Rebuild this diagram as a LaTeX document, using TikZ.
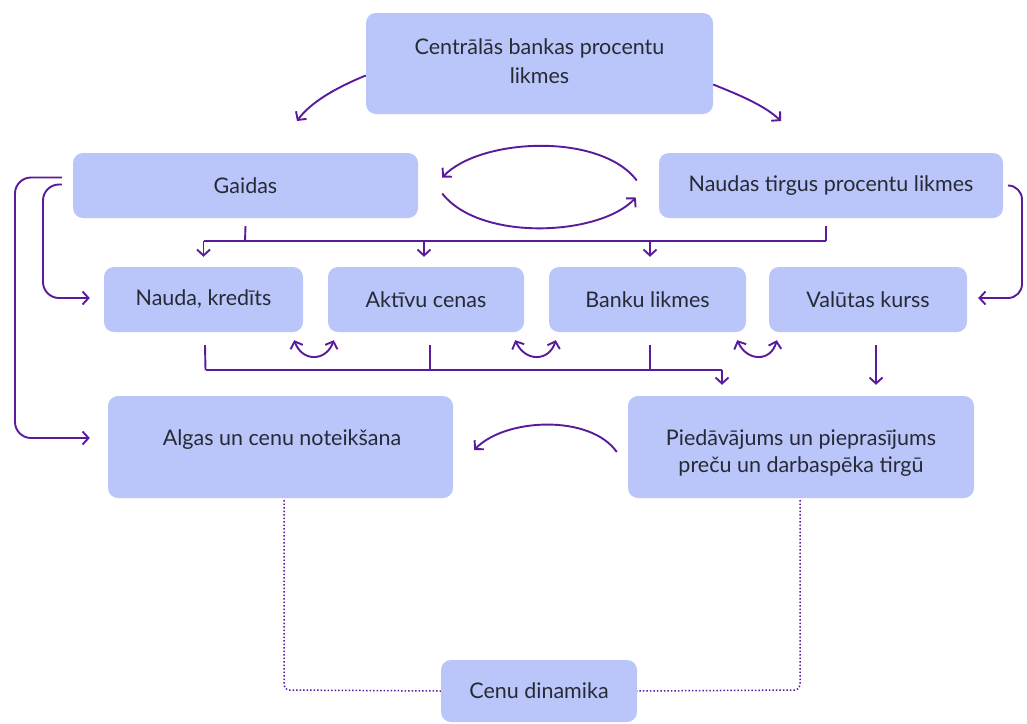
\documentclass[tikz,border=0pt]{standalone}
\usepackage{fontspec}
\setmainfont{Lato}
\usetikzlibrary{arrows.meta,calc}
\definecolor{boxfill}{HTML}{BAC6F9}
\definecolor{arr}{HTML}{5A1A9C}
\definecolor{txt}{HTML}{262A36}
\begin{document}
\begin{tikzpicture}[x=1pt,y=-1pt,
  box/.style={fill=boxfill, rounded corners=10pt, inner sep=0pt, text=txt,
    font=\fontsize{21.5}{29}\selectfont, align=center},
  lbl/.style={text=txt, font=\fontsize{21.5}{27}\selectfont, align=center, inner sep=0pt},
  tip/.style={-{Straight Barb[length=6pt,width=13pt,line width=1.9pt]}},
  con/.style={draw=arr, line width=1.9pt, tip},
  dcon/.style={draw=arr, line width=1.9pt, {Straight Barb[length=6pt,width=13pt,line width=1.9pt]}-{Straight Barb[length=6pt,width=13pt,line width=1.9pt]}},
  plain/.style={draw=arr, line width=1.9pt},
  dots/.style={draw=arr, line width=1.5pt, dotted, rounded corners=5pt}]
\useasboundingbox (0,0) rectangle (1027,723);

% boxes
\node[box, minimum width=347pt, minimum height=101pt] (central) at (539.5,63.5) {};
\node[lbl, font=\fontsize{21.5}{29}\selectfont] (centralT) at (539.5,61) {Centrālās bankas procentu\\likmes};
\node[box, minimum width=345pt, minimum height=65pt] (gaidas) at (245.5,185.5) {Gaidas};
\node[box, minimum width=344pt, minimum height=65pt] (naudas) at (831,185.5) {Naudas tirgus procentu likmes};
\node[box, minimum width=199pt, minimum height=65pt] (nauda) at (203.5,299.5) {Nauda, kredīts};
\node[box, minimum width=196pt, minimum height=65pt] (aktivu) at (426,299.5) {Aktīvu cenas};
\node[box, minimum width=197pt, minimum height=65pt] (banku) at (647.5,299.5) {Banku likmes};
\node[box, minimum width=198pt, minimum height=65pt] (valutas) at (868,299.5) {Valūtas kurss};
\node[box, minimum width=345pt, minimum height=102pt] (algas) at (280.5,447) {};
\node[box, minimum width=346pt, minimum height=102pt] (pied) at (801,447) {};
\node[box, minimum width=196pt, minimum height=62pt] (cenu) at (539,691) {Cenu dinamika};
\node[lbl] (algasT) at (282,440) {Algas un cenu noteikšana};
\node[lbl] (piedT) at (801,453) {Piedāvājums un pieprasījums\\preču un darbaspēka tirgū};

% free ends
\coordinate (cL) at (297,121);
\coordinate (cR) at (781,121);
\coordinate (bus1) at (245,241);
\coordinate (bus2) at (826,241);
\coordinate (low) at (722,370);

% central to second row
\draw[con] ($(central.west)+(0,12)$) .. controls (335,88) and (310,103) .. (cL);
\draw[con] ($(central.east)+(0,21)$) .. controls (742,96) and (765,106) .. (cR);

% mutual arcs gaidas / naudas
\draw[con] ($(naudas.west)+(-22,-5)$) .. controls (600,132) and (480,138) .. ($(gaidas.east)+(24,-8)$);
\draw[con] ($(gaidas.east)+(24,8)$) .. controls (480,242) and (600,236) .. ($(naudas.west)+(-23,12)$);

% top bus
\draw[plain] (gaidas.south |- 0,226) -- (bus1);
\draw[plain] (bus2 |- 0,226) -- (bus2);
\draw[plain] (bus1 -| nauda.north) -- (bus2);
\draw[con] (bus1 -| nauda.north) -- ($(nauda.north)+(0,-10)$);
\draw[con] (bus1 -| 424,0) -- ($(aktivu.north)+(-2,-10)$);
\draw[con] (bus1 -| 650,0) -- ($(banku.north)+(2.5,-10)$);

% left loops from gaidas
\draw[con, rounded corners=16pt] ($(gaidas.west)+(-11,-8)$) -- (15,177.5) -- (15,438) -- ($(algas.west)+(-18,-9)$);
\draw[con, rounded corners=16pt] ($(gaidas.west)+(-11,-1)$) -- (43,184.5) -- (43,298) -- ($(nauda.west)+(-14,-1.5)$);

% right loop from naudas
\draw[con, rounded corners=14pt] ($(naudas.east)+(5,0)$) -- (1022,185.5) -- (1022,298) -- ($(valutas.east)+(11,-1.5)$);

% small double arrows
\draw[dcon] ($(nauda.south east)+(-9,8)$) .. controls (302,362) and (326,362) .. ($(aktivu.south west)+(6,8)$);
\draw[dcon] ($(aktivu.south east)+(-9,8)$) .. controls (525,362) and (549,362) .. ($(banku.south west)+(7,8)$);
\draw[dcon] ($(banku.south east)+(-9,8)$) .. controls (747,362) and (771,362) .. ($(valutas.south west)+(8,8)$);

% lower bus
\draw[plain] ($(nauda.south)+(1.5,13)$) -- (205.5,370);
\draw[plain] ($(aktivu.south)+(4,13)$) -- (430,370);
\draw[plain] ($(banku.south)+(2.5,13)$) -- (650,370);
\draw[plain] (205.5,370) -- (low);
\draw[con] (low) -- ($(pied.north)+(-79,-11)$);
\draw[con] ($(valutas.south)+(8,13)$) -- ($(pied.north)+(75,-11)$);

% pied -> algas
\draw[con] ($(pied.west)+(-11,5)$) .. controls (590,414) and (505,418) .. ($(algas.east)+(21,3)$);

% dotted links to cenu
\draw[dots] ($(algas.south)+(3.5,2)$) -- (284,690) -- (cenu.west);
\draw[dots] ($(pied.south)+(-1,2)$) -- (800,690) -- (cenu.east);
\end{tikzpicture}
\end{document}
